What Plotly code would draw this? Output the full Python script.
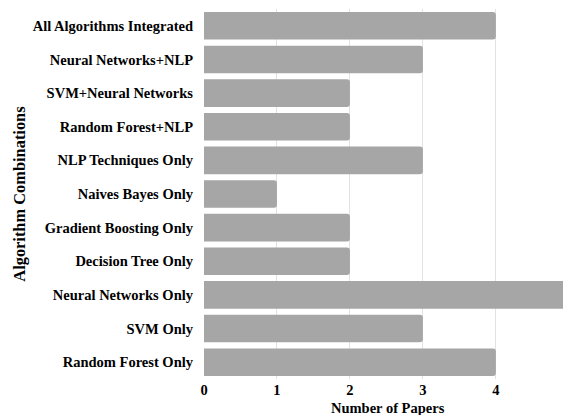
import plotly.graph_objects as go

categories = [
    "All Algorithms Integrated",
    "Neural Networks+NLP",
    "SVM+Neural Networks",
    "Random Forest+NLP",
    "NLP Techniques Only",
    "Naives Bayes Only",
    "Gradient Boosting Only",
    "Decision Tree Only",
    "Neural Networks Only",
    "SVM Only",
    "Random Forest Only",
]
papers = [4, 3, 2, 2, 3, 1, 2, 2, 5, 3, 4]
x_ticks = [0, 1, 2, 3, 4]

font_family = "Liberation Serif"
fsize = 14.5
bold = dict(family=font_family, size=fsize, color="black", weight="bold")

fig_w, fig_h = 563, 415
plot_left = 204
plot_top = 9
plot_bottom_px = 379.4
b_margin = fig_h - plot_bottom_px

fig = go.Figure(
    go.Bar(
        y=categories,
        x=papers,
        orientation="h",
        marker=dict(color="#a6a6a6", line=dict(width=0)),
    )
)

fig.update_layout(
    width=fig_w,
    height=fig_h,
    margin=dict(l=plot_left, r=0, t=plot_top, b=b_margin, pad=0),
    paper_bgcolor="white",
    plot_bgcolor="white",
    bargap=0.18,
    barcornerradius=3,
    showlegend=False,
    font=bold,
)

fig.update_xaxes(
    range=[0, 4.92],
    tickvals=x_ticks,
    ticktext=[str(v) for v in x_ticks],
    showgrid=True,
    gridcolor="#e2e2e2",
    gridwidth=1,
    zeroline=False,
    showline=False,
    tickfont=bold,
)

fig.update_yaxes(
    autorange="reversed",
    showgrid=False,
    zeroline=False,
    showline=False,
    ticklabelstandoff=10,
    tickfont=bold,
)

pw = fig_w - plot_left
ph = plot_bottom_px - plot_top

fig.add_annotation(
    text="Number of Papers",
    xref="paper",
    yref="paper",
    x=(387.5 - plot_left) / pw,
    y=-28.6 / ph,
    xanchor="center",
    yanchor="middle",
    showarrow=False,
    font=bold,
)

fig.add_annotation(
    text="Algorithm Combinations",
    xref="paper",
    yref="paper",
    x=(18.7 - plot_left) / pw,
    y=0.5,
    xanchor="center",
    yanchor="middle",
    textangle=-90,
    showarrow=False,
    font=dict(family=font_family, size=16.4, color="black", weight="bold"),
)

fig.write_html(
    "out.html",
    config={"responsive": False, "displayModeBar": False},
    post_script="document.body.style.margin='0';document.body.style.overflow='hidden';",
)
